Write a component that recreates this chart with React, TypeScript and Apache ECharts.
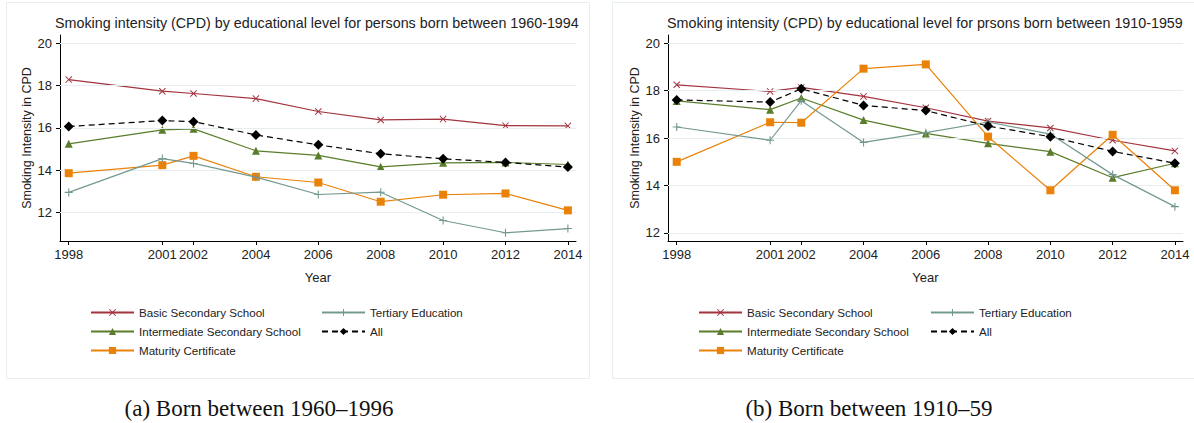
import React, { useEffect, useRef } from "react";
import * as echarts from "echarts";

const years = [1998, 2001, 2002, 2004, 2006, 2008, 2010, 2012, 2014];
const yTicks = [12, 14, 16, 18, 20];
const names = [
  "Basic Secondary School",
  "Intermediate Secondary School",
  "Maturity Certificate",
  "Tertiary Education",
  "All",
];

// Panel (a): born 1960-1994
const basicA = [18.28, 17.73, 17.62, 17.38, 16.77, 16.37, 16.41, 16.1, 16.09];
const interA = [15.24, 15.9, 15.95, 14.91, 14.69, 14.15, 14.34, 14.36, 14.26];
const maturA = [13.85, 14.23, 14.67, 13.68, 13.41, 12.5, 12.83, 12.89, 12.09];
const tertA = [12.94, 14.54, 14.31, 13.66, 12.84, 12.95, 11.61, 11.03, 11.23];
const allA = [16.06, 16.34, 16.29, 15.66, 15.19, 14.77, 14.53, 14.36, 14.14];

// Panel (b): born 1910-1959
const basicB = [18.25, 17.97, 18.14, 17.76, 17.28, 16.72, 16.43, 15.91, 15.46];
const interB = [17.57, 17.2, 17.69, 16.76, 16.2, 15.78, 15.43, 14.33, 14.94];
const maturB = [15.0, 16.67, 16.65, 18.93, 19.11, 16.06, 13.8, 16.14, 13.8];
const tertB = [16.47, 15.91, 17.58, 15.82, 16.23, 16.68, 16.17, 14.46, 13.11];
const allB = [17.61, 17.52, 18.08, 17.38, 17.16, 16.51, 16.06, 15.44, 14.94];

const titleA = "Smoking intensity (CPD) by educational level for persons born between 1960-1994";
const titleB = "Smoking intensity (CPD) by educational level for prsons born between 1910-1959";
const captionA = "(a) Born between 1960\u20131996";
const captionB = "(b) Born between 1910\u201359";

const SANS = "'Liberation Sans', Arial, sans-serif";
const SERIF = "'Liberation Serif', 'Times New Roman', serif";
const colors = ["#a3343f", "#5a7d2b", "#ea8209", "#74998f", "#000000"];
const X_SYM = "path://M0,1L1,0L5,4L9,0L10,1L6,5L10,9L9,10L5,6L1,10L0,9L4,5Z";
const PLUS_SYM = "path://M4.3,0H5.7V4.3H10V5.7H5.7V10H4.3V5.7H0V4.3H4.3Z";
const symbols = [X_SYM, "triangle", "rect", PLUS_SYM, "diamond"];
const symSizes = [7, 8, 8, 8, 10];

function mkSeries(idx: number, datasets: number[][]) {
  const out: any[] = [];
  out.push({
    type: "line",
    name: "_grid" + idx,
    xAxisIndex: idx,
    yAxisIndex: idx,
    data: [],
    silent: true,
    z: 1,
    markLine: {
      silent: true,
      symbol: "none",
      label: { show: false },
      lineStyle: { color: "#e7eef0", width: 1, type: "solid" },
      data: yTicks.map((v) => ({ yAxis: v })),
    },
  });
  datasets.forEach((d, i) => {
    out.push({
      type: "line",
      name: names[i],
      xAxisIndex: idx,
      yAxisIndex: idx,
      data: years.map((y, k) => [y, d[k]]),
      symbol: symbols[i],
      symbolSize: symSizes[i],
      showSymbol: true,
      z: 3 + i,
      lineStyle: {
        color: colors[i],
        width: 1.2,
        type: i === 4 ? [6, 4] : "solid",
      },
      itemStyle: { color: colors[i] },
    });
  });
  return out;
}

function mkXAxis(idx: number) {
  return {
    type: "value",
    gridIndex: idx,
    min: 1997.72,
    max: 2014.26,
    name: "Year",
    nameLocation: "middle",
    nameGap: 30,
    nameTextStyle: { fontFamily: SANS, fontSize: 13, color: "#222" },
    axisLine: { show: true, lineStyle: { color: "#000", width: 1 } },
    axisTick: { show: true, length: 4, customValues: years, lineStyle: { color: "#000" } },
    axisLabel: {
      customValues: years,
      margin: 7,
      fontFamily: SANS,
      fontSize: 13,
      color: "#222",
      formatter: (v: number) => String(Math.round(v)),
    },
    splitLine: { show: false },
  };
}

function mkYAxis(idx: number, min: number, max: number) {
  return {
    type: "value",
    gridIndex: idx,
    min,
    max,
    name: "Smoking Intensity in CPD",
    nameLocation: "middle",
    nameGap: 27,
    nameTextStyle: { fontFamily: SANS, fontSize: 12.5, color: "#222" },
    axisLine: { show: true, lineStyle: { color: "#000", width: 1 } },
    axisTick: { show: true, length: 4, customValues: yTicks, lineStyle: { color: "#000" } },
    axisLabel: {
      customValues: yTicks,
      margin: 8,
      fontFamily: SANS,
      fontSize: 13,
      color: "#222",
    },
    splitLine: { show: false },
  };
}

function mkLegend(left: number, data: string[]) {
  return {
    orient: "vertical",
    left,
    top: 305.5,
    padding: 0,
    itemWidth: 43,
    itemHeight: 9,
    itemGap: 5,
    selectedMode: false,
    data,
    textStyle: { fontFamily: SANS, fontSize: 11.6, color: "#222", lineHeight: 14 },
  };
}

export default function App() {
  const ref = useRef<HTMLDivElement>(null);
  useEffect(() => {
    if (!ref.current) return;
    const chart = echarts.init(ref.current, undefined, { renderer: "svg" });
    chart.setOption({
      animation: false,
      backgroundColor: "#ffffff",
      grid: [
        { left: 60, top: 35, width: 516, height: 206 },
        { left: 668, top: 35, width: 515, height: 206 },
      ],
      xAxis: [mkXAxis(0), mkXAxis(1)],
      yAxis: [mkYAxis(0, 10.64, 20.39), mkYAxis(1, 11.66, 20.35)],
      legend: [
        mkLegend(90, [names[0], names[1], names[2]]),
        mkLegend(321, [names[3], names[4]]),
        mkLegend(698, [names[0], names[1], names[2]]),
        mkLegend(930, [names[3], names[4]]),
      ],
      graphic: [
        {
          type: "rect",
          shape: { x: 6.5, y: 2.5, width: 583, height: 376 },
          style: { fill: "none", stroke: "#e6eeee", lineWidth: 1 },
          silent: true,
        },
        {
          type: "rect",
          shape: { x: 612.5, y: 2.5, width: 590, height: 376 },
          style: { fill: "none", stroke: "#e6eeee", lineWidth: 1 },
          silent: true,
        },
        {
          type: "text",
          left: 55,
          top: 16,
          style: { text: titleA, font: `14.3px ${SANS}`, fill: "#222" },
        },
        {
          type: "text",
          left: 667,
          top: 16,
          style: { text: titleB, font: `14.3px ${SANS}`, fill: "#222" },
        },
        {
          type: "text",
          x: 259,
          y: 408,
          style: {
            text: captionA,
            font: `23px ${SERIF}`,
            fill: "#111",
            align: "center",
            verticalAlign: "middle",
          },
        },
        {
          type: "text",
          x: 869,
          y: 408,
          style: {
            text: captionB,
            font: `23px ${SERIF}`,
            fill: "#111",
            align: "center",
            verticalAlign: "middle",
          },
        },
      ],
      series: [
        ...mkSeries(0, [basicA, interA, maturA, tertA, allA]),
        ...mkSeries(1, [basicB, interB, maturB, tertB, allB]),
      ],
    });
    return () => chart.dispose();
  }, []);
  return (
    <div
      ref={ref}
      style={{ position: "absolute", left: 0, top: 0, width: 1194, height: 423 }}
    />
  );
}
